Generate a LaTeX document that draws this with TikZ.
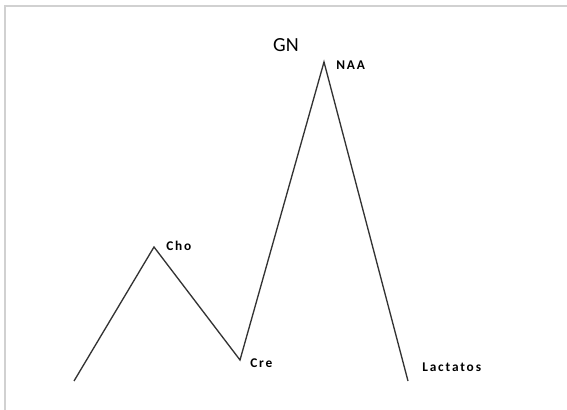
\documentclass[tikz,border=0pt]{standalone}
\usepackage{fontspec}
\setmainfont{Carlito}
\newfontfamily\spacedfont[LetterSpace=14]{Carlito}
\usetikzlibrary{positioning}
\tikzstyle{peak} = [inner sep=0pt, anchor=west, font=\spacedfont\bfseries\fontsize{10}{12}\selectfont]
\tikzstyle{title} = [inner sep=0pt, font=\fontsize{15}{18}\selectfont]
\tikzstyle{curve} = [line width=1pt, black!80]
\tikzstyle{frame} = [line width=1.5pt, black!18]

\begin{document}
\begin{tikzpicture}[x=0.75pt, y=0.75pt]
    \useasboundingbox (0,0) rectangle (567,410);
    \draw [frame] (5,0) -- (5,404) -- (567,404);

    % points of the curve
    \coordinate (start) at (74,29);
    \coordinate (cho) at (154,163);
    \coordinate (cre) at (240,50);
    \coordinate (naa) at (324,348);
    \coordinate (lact) at (408,29);

    \node (gn) [title] at (286,365) {GN};
    \node (chol) [peak] at (166,164) {Cho};
    \node (crel) [peak] at (250,47) {Cre};
    \node (naal) [peak] at (336,345) {NAA};
    \node (lactl) [peak] at (422,43) {Lactatos};

    \draw [curve] (start) -- (cho) -- (cre) -- (naa) -- (lact);
\end{tikzpicture}
\end{document}
